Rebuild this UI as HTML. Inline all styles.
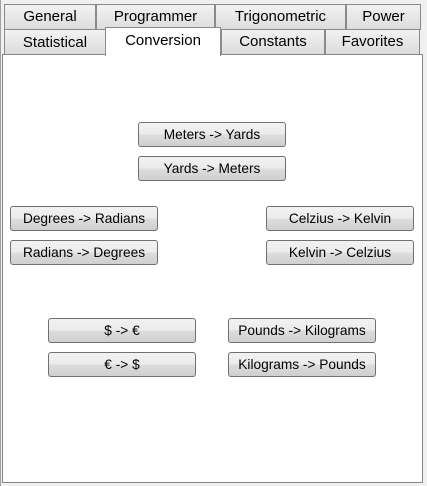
<!DOCTYPE html>
<html><head><style>
body{margin:0;width:427px;height:486px;background:#f0f0f0;position:relative;overflow:hidden;font-family:"Liberation Sans",sans-serif;}
.t{position:absolute;box-sizing:border-box;border:1px solid #8a8a8a;border-bottom:none;background:linear-gradient(#f2f2f2,#dcdcdc);font-size:15px;text-align:center;color:#000;}
.panel{position:absolute;left:2px;top:54px;width:421px;height:429px;box-sizing:border-box;border:1px solid #828790;background:#fff;}
.b{position:absolute;width:148px;height:25px;box-sizing:border-box;border:1px solid #707070;border-radius:3px;background:linear-gradient(#f2f2f2 0%,#ebebeb 50%,#dddddd 51%,#cfcfcf 100%);font-size:13.7px;line-height:24px;text-align:center;white-space:nowrap;}
</style></head><body>
<div style="position:absolute;left:0;top:0;width:1px;height:486px;background:#a0a0a0"></div>
<div class="t" style="left:4px;top:4px;width:92px;height:26px;line-height:24px">General</div>
<div class="t" style="left:96px;top:4px;width:119px;height:26px;line-height:24px">Programmer</div>
<div class="t" style="left:215px;top:4px;width:131px;height:26px;line-height:24px">Trigonometric</div>
<div class="t" style="left:346px;top:4px;width:75px;height:26px;line-height:24px">Power</div>
<div class="panel"></div>
<div class="t" style="left:4px;top:29px;width:102px;height:25px;line-height:26px">Statistical</div>
<div class="t" style="left:221px;top:29px;width:104px;height:25px;line-height:24px">Constants</div>
<div class="t" style="left:325px;top:29px;width:95px;height:25px;line-height:24px">Favorites</div>
<div class="t" style="left:105px;top:27px;width:116px;height:29px;line-height:26px;background:#fff;border-color:#8a8a8a">Conversion</div>
<div class="b" style="left:138px;top:122px">Meters -&gt; Yards</div>
<div class="b" style="left:138px;top:156px">Yards -&gt; Meters</div>
<div class="b" style="left:10px;top:206px">Degrees -&gt; Radians</div>
<div class="b" style="left:10px;top:240px">Radians -&gt; Degrees</div>
<div class="b" style="left:266px;top:206px">Celzius -&gt; Kelvin</div>
<div class="b" style="left:266px;top:240px">Kelvin -&gt; Celzius</div>
<div class="b" style="left:48px;top:318px">$ -&gt; €</div>
<div class="b" style="left:48px;top:352px">€ -&gt; $</div>
<div class="b" style="left:228px;top:318px">Pounds -&gt; Kilograms</div>
<div class="b" style="left:228px;top:352px">Kilograms -&gt; Pounds</div>
</body></html>
